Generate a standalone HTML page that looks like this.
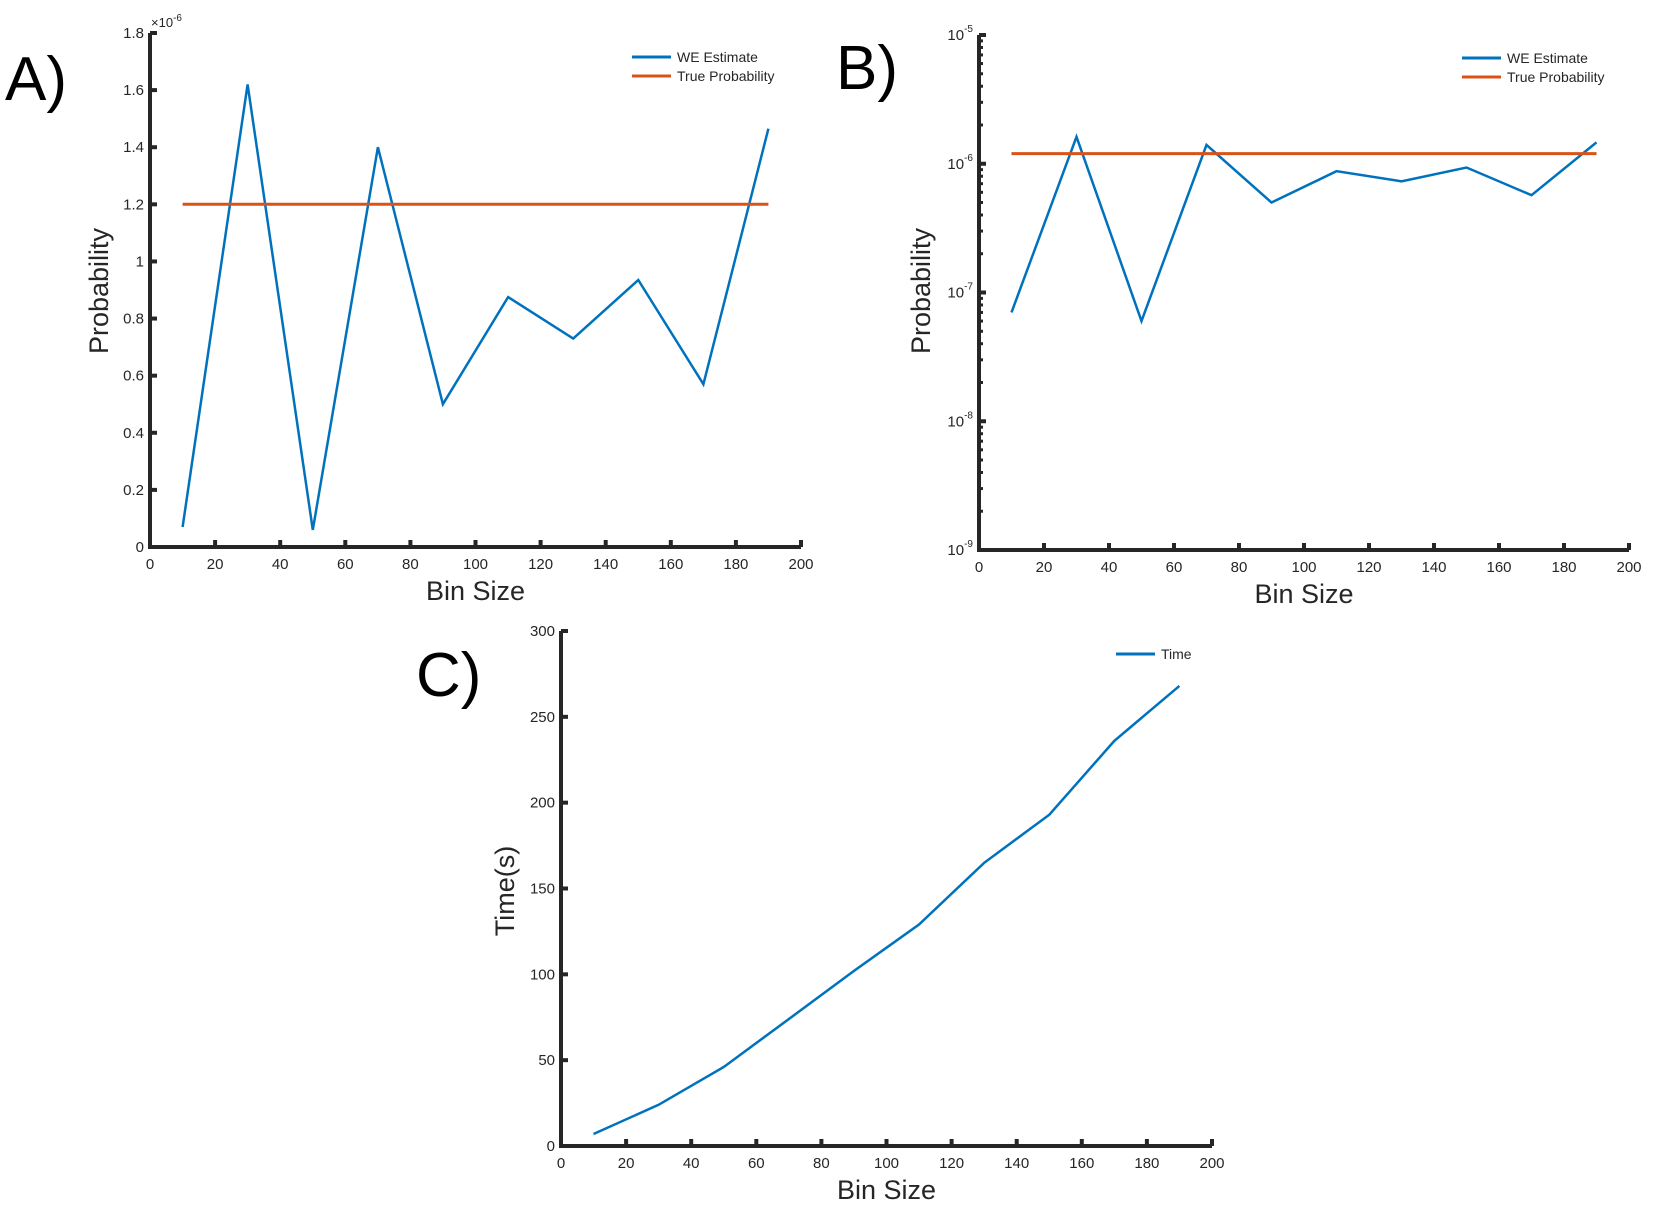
<!DOCTYPE html>
<html><head><meta charset="utf-8">
<style>
html,body{margin:0;padding:0;background:#fff;}
svg{display:block;font-family:"Liberation Sans","DejaVu Sans",sans-serif;}
</style></head>
<body>
<svg id="fig" width="1671" height="1222" viewBox="0 0 1671 1222" xmlns="http://www.w3.org/2000/svg"></svg>
<script>
const binSizes = [10,30,50,70,90,110,130,150,170,190];
const weEstimate = [0.07,1.62,0.06,1.40,0.50,0.875,0.73,0.935,0.57,1.465]; // x1e-6
const trueProb = 1.2; // x1e-6
const timeVals = [7,24,46,74,102,129,165,193,236,268];
const xTicks = [0,20,40,60,80,100,120,140,160,180,200];
const yTicksA = [0,0.2,0.4,0.6,0.8,1,1.2,1.4,1.6,1.8];
const yTickLabelsA = ["0","0.2","0.4","0.6","0.8","1","1.2","1.4","1.6","1.8"];
const yDecadesB = [-9,-8,-7,-6,-5];
const yTicksC = [0,50,100,150,200,250,300];

const NS="http://www.w3.org/2000/svg";
const svg=document.getElementById('fig');
function mk(tag,attrs,parent){const e=document.createElementNS(NS,tag);for(const k in attrs)e.setAttribute(k,attrs[k]);(parent||svg).appendChild(e);return e;}
const AX='#262626', BLUE='#0072BD', ORANGE='#D95319';

function panel(cfg){
  const g=mk('g',{});
  
  
  const {x0,x1,y0,y1}=cfg;
  const sx=v=>x0+(v-0)/(200-0)*(x1-x0);
  const sy=cfg.sy;
  const ax=mk('path',{d:`M${x0},${y1} L${x0},${y0} L${x1},${y0}`,fill:'none',stroke:AX,'stroke-width':4},g);
  
  
  xTicks.forEach(t=>{
    const X=sx(t);
    const tk=mk('line',{x1:X,x2:X,y1:y0,y2:y0-7,stroke:AX,'stroke-width':4},g);
    
    
    const tl=mk('text',{x:X,y:y0+22,'text-anchor':'middle','font-size':15,fill:AX},g);
    tl.textContent=t;
    
    
  });
  cfg.yTicks.forEach((t,i)=>{
    const Y=sy(t);
    const tk=mk('line',{x1:x0,x2:x0+7,y1:Y,y2:Y,stroke:AX,'stroke-width':4},g);
    
    
    const tl=mk('text',{x:x0-6,y:Y+5,'text-anchor':'end','font-size':15,fill:AX},g);
    
    
    if(cfg.log){
      tl.textContent='10';
      const sp=mk('tspan',{dy:-8,'font-size':10},tl);sp.textContent=String(t);
    } else tl.textContent=cfg.yLabels[i];
  });
  if(cfg.log){
    for(let d=-9;d<-5;d++){for(let m=2;m<10;m++){
      const Y=sy(d+Math.log10(m));
      const tk=mk('line',{x1:x0,x2:x0+4,y1:Y,y2:Y,stroke:AX,'stroke-width':3},g);
      
      
    }}
  }
  const xt=mk('text',{x:(x0+x1)/2,y:y0+53,'text-anchor':'middle','font-size':27,fill:AX},g);
  xt.textContent='Bin Size';
  
  
  const yt=mk('text',{x:0,y:0,'text-anchor':'middle','font-size':27,fill:AX,transform:`translate(${cfg.ytx},${cfg.yty}) rotate(-90)`},g);
  yt.textContent=cfg.ytitle;
  
  
  const pl=mk('text',{x:cfg.lx,y:cfg.ly,'font-size':62,fill:'#000'},g);
  pl.textContent=cfg.letter;
  
  
  cfg.series.forEach(s=>{
    const pts=binSizes.map((b,i)=>`${sx(b).toFixed(1)},${sy(s.vals[i]).toFixed(1)}`).join(' ');
    const pl2=mk('polyline',{points:pts,fill:'none',stroke:s.color,'stroke-width':s.w},g);
    
    
  });
  const lg=mk('g',{},g);
  
  
  cfg.series.forEach((s,i)=>{
    const Y=cfg.legY+i*19;
    const ln=mk('line',{x1:cfg.legX,x2:cfg.legX+39,y1:Y,y2:Y,stroke:s.color,'stroke-width':3},lg);
    
    
    const tx=mk('text',{x:cfg.legX+45,y:Y+5,'font-size':14,fill:AX},lg);
    tx.textContent=s.label;
    
    
  });
  return g;
}

// Panel A
{
  const y0=547,y1=33;
  const sy=v=>y0-(v/1.8)*(y0-y1);
  panel({name:'panel-a',x0:150,x1:801,y0,y1,sy,yTicks:yTicksA,yLabels:yTickLabelsA,
    ytitle:'Probability',ytx:108,yty:291,letter:'A)',lx:5,ly:100,legX:632,legY:57,
    series:[{name:'we-estimate-line',label:'WE Estimate',vals:weEstimate,color:BLUE,w:2.5},
            {name:'true-probability-line',label:'True Probability',vals:binSizes.map(()=>trueProb),color:ORANGE,w:3}]});
  const m=mk('text',{x:151,y:27,'font-size':13,fill:AX});
  m.textContent='×10';
  const sp=mk('tspan',{dy:-6,'font-size':10},m);sp.textContent='-6';
  
  
}
// Panel B (log)
{
  const y0=550,y1=35;
  const sy=v=>y0-(v+9)/4*(y0-y1);
  const lw=weEstimate.map(v=>Math.log10(v*1e-6));
  const lt=binSizes.map(()=>Math.log10(trueProb*1e-6));
  panel({name:'panel-b',x0:979,x1:1629,y0,y1,sy,yTicks:yDecadesB,log:true,
    ytitle:'Probability',ytx:930,yty:291,letter:'B)',lx:836,ly:89,legX:1462,legY:58,
    series:[{name:'we-estimate-line',label:'WE Estimate',vals:lw,color:BLUE,w:2.5},
            {name:'true-probability-line',label:'True Probability',vals:lt,color:ORANGE,w:3}]});
}
// Panel C
{
  const y0=1146,y1=631;
  const sy=v=>y0-(v/300)*(y0-y1);
  panel({name:'panel-c',x0:561,x1:1212,y0,y1,sy,yTicks:yTicksC,yLabels:yTicksC.map(String),
    ytitle:'Time(s)',ytx:514,yty:891,letter:'C)',lx:416,ly:696,legX:1116,legY:654,
    series:[{name:'time-line',label:'Time',vals:timeVals,color:BLUE,w:2.5}]});
}
</script>
</body></html>
